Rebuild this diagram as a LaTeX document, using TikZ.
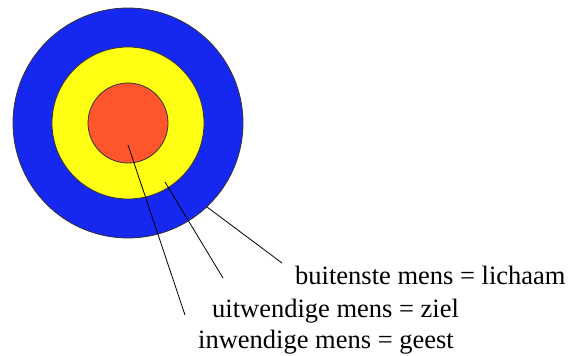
\documentclass[tikz,border=0pt]{standalone}
\usepackage{fontspec}
\newfontfamily\ringfont{Liberation Serif}
\usepackage{xcolor}
\usetikzlibrary{positioning}

\definecolor{ringblue}{RGB}{22,40,240}
\definecolor{ringyellow}{RGB}{255,255,20}
\definecolor{ringred}{RGB}{255,85,45}

\begin{document}
\begin{tikzpicture}[
    x=1pt, y=-1pt,
    every node/.style={font=\ringfont\fontsize{26.5}{31}\selectfont},
    ring/.style={circle,draw=black!80,line width=0.8pt,inner sep=0pt},
    pointer/.style={line width=0.8pt},
    lbl/.style={anchor=base west,inner sep=0pt},
]
    \useasboundingbox (0,0) rectangle (581,356);

    % rings
    \node[ring,fill=ringblue,minimum size=230pt] (outer) at (128,123) {};
    \node[ring,fill=ringyellow,minimum size=152pt] (middle) at (128,123) {};
    \node[ring,fill=ringred,minimum size=80pt] (inner) at (128,123) {};

    % labels
    \node[lbl] (body) at (295,284) {buitenste mens = lichaam};
    \node[lbl] (soul) at (212,317) {uitwendige mens = ziel};
    \node[lbl] (spirit) at (198,348) {inwendige mens = geest};

    % pointer ends
    \coordinate (p-body) at (207,207);
    \coordinate (p-soul) at (165,182);
    \coordinate (p-spirit) at (128,145);
    \coordinate (e-body) at (282,263);
    \coordinate (e-soul) at (223,278);
    \coordinate (e-spirit) at (185,315);

    \draw[pointer] (p-body) -- (e-body);
    \draw[pointer] (p-soul) -- (e-soul);
    \draw[pointer] (p-spirit) -- (e-spirit);
\end{tikzpicture}
\end{document}
